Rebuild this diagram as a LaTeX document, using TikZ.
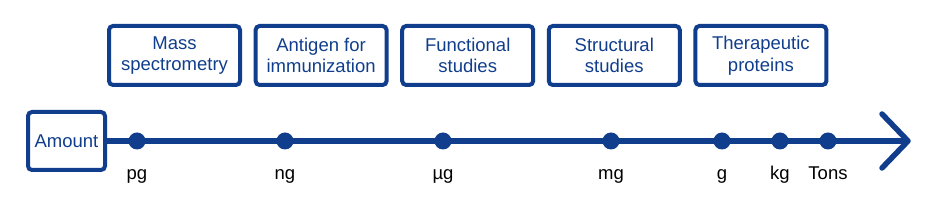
\documentclass[tikz,border=0pt]{standalone}
\usepackage{fontspec}
\setmainfont{Liberation Sans}
\definecolor{navy}{RGB}{16,62,140}

\begin{document}
\begin{tikzpicture}[x=1pt,y=1pt,line width=4pt,
    usebox/.style={draw=navy,rounded corners=4pt,text=navy,align=center,
      minimum width=131pt,minimum height=59pt,inner sep=0pt,
      font=\fontsize{18.5}{21.5}\selectfont},
    dot/.style={circle,fill=navy,draw=none,minimum size=17pt,inner sep=0pt},
    unit/.style={anchor=base,text=black,inner sep=0pt,
      font=\fontsize{18.5}{21.5}\selectfont}]
  \useasboundingbox (0,0) rectangle (930,205);

  \coordinate (tip) at (908,64);
  \coordinate (up) at (882,91);
  \coordinate (dn) at (882,37);

  \node[usebox,minimum width=77pt,minimum height=58pt] (amount) at (66.5,64) {Amount};

  \draw[navy,line width=5.5pt] (amount.east) -- (tip);
  \draw[navy,line width=5.5pt,line cap=round,line join=round] (up) -- (tip) -- (dn);

  \node[dot] (pg) at (137,64) {};
  \node[dot] (ng) at (285,64) {};
  \node[dot] (ug) at (443,64) {};
  \node[dot] (mg) at (611,64) {};
  \node[dot] (g) at (722,64) {};
  \node[dot] (kg) at (780,64) {};
  \node[dot] (tons) at (828,64) {};

  \node[unit] (pg-l) at (137,25) {pg};
  \node[unit] (ng-l) at (285,25) {ng};
  \node[unit] (ug-l) at (443,25) {µg};
  \node[unit] (mg-l) at (611,25) {mg};
  \node[unit] (g-l) at (722,25) {g};
  \node[unit] (kg-l) at (780,25) {kg};
  \node[unit] (tons-l) at (828,25) {Tons};

  \node[usebox] (mass) at (174.5,149.5) {Mass\\spectrometry};
  \node[usebox] (antigen) at (321.1,149.5) {Antigen for\\immunization};
  \node[usebox] (func) at (467.7,149.5) {Functional\\studies};
  \node[usebox] (struct) at (614.3,149.5) {Structural\\studies};
  \node[usebox] (thera) at (760.9,149.5) {Therapeutic\\proteins};
\end{tikzpicture}
\end{document}
